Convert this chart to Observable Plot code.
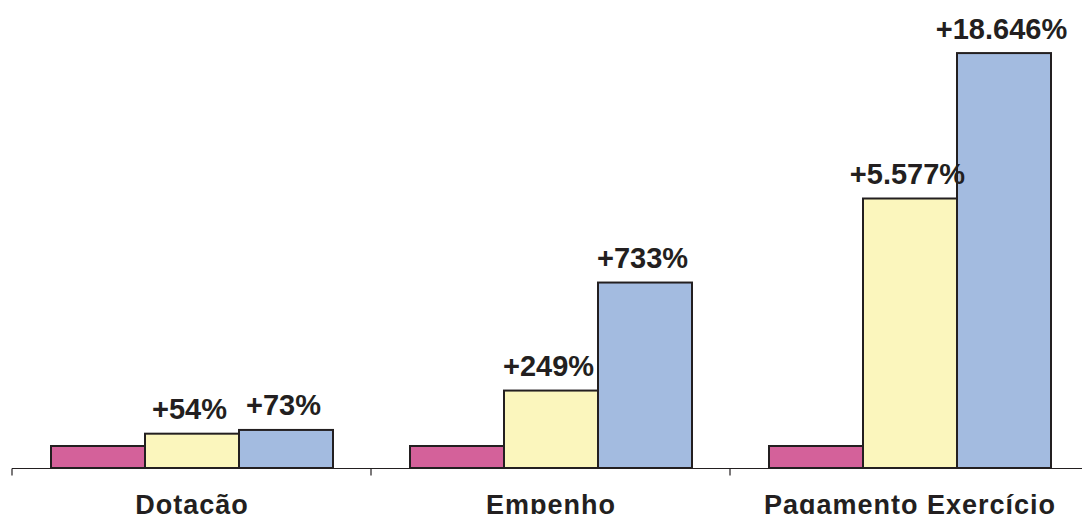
<!DOCTYPE html>
<html>
<head>
<meta charset="utf-8">
<script src="https://cdn.jsdelivr.net/npm/d3@7"></script>
<script src="https://cdn.jsdelivr.net/npm/@observablehq/plot@0.6"></script>
<style>
  html, body { margin: 0; padding: 0; background: #fff; }
  #chart svg { display: block; }
  g[aria-label="fx-axis tick label"] text { letter-spacing: 1px; }
</style>
</head>
<body>
<div id="chart"></div>
<script>
const categories = ["Dotação", "Empenho", "Pagamento Exercício"];
const series = ["base", "período 2", "período 3"];
// bar heights (index, pink bar = 100)
const baseValues = [100, 100, 100];
const secondValues = [156, 352, 1225];
const thirdValues = [173, 843, 1886];
const secondLabels = ["+54%", "+249%", "+5.577%"];
const thirdLabels = ["+73%", "+733%", "+18.646%"];
const colors = ["#d4619a", "#fbf6bd", "#a3bbe0"];

const rows = [];
categories.forEach((c, i) => {
  rows.push({category: c, series: series[0], value: baseValues[i], label: ""});
  rows.push({category: c, series: series[1], value: secondValues[i], label: secondLabels[i]});
  rows.push({category: c, series: series[2], value: thirdValues[i], label: thirdLabels[i]});
});

const ink = "#231f20";

const chart = Plot.plot({
  width: 1082,
  height: 514,
  marginTop: 28,
  marginBottom: 46,
  marginLeft: 12,
  marginRight: 0,
  style: {fontFamily: "'Liberation Sans', Arial, sans-serif", color: ink, background: "#fff"},
  fx: {domain: categories, range: [11, 1090], padding: 0, label: null},
  x: {domain: series, paddingInner: 0, paddingOuter: 0.392, axis: null},
  y: {domain: [0, 2000], axis: null},
  color: {domain: series, range: colors},
  marks: [
    Plot.barY(rows, {fx: "category", x: "series", y: "value", fill: "series", stroke: ink, strokeWidth: 2}),
    Plot.ruleY(categories, {
      fx: d => d, y: () => 0, stroke: ink, strokeWidth: 1.2,
      render(index, scales, values, dimensions, context, next) {
        const g = next(index, scales, values, dimensions, context);
        g.querySelectorAll("line").forEach(line => {
          const t = line.cloneNode();
          const x1 = line.getAttribute("x1");
          const y1 = +line.getAttribute("y1");
          t.setAttribute("x2", x1);
          t.setAttribute("y2", y1 + 7);
          g.appendChild(t);
        });
        return g;
      }
    }),
    Plot.text(rows, {
      fx: "category", x: "series", y: "value", text: "label",
      lineAnchor: "bottom", dy: -15, dx: -3,
      fontSize: 29, fontWeight: "bold", fill: ink
    }),
    Plot.axisFx({anchor: "bottom", tickSize: 0, tickPadding: 26, fontSize: 27, fontWeight: "bold", fill: ink, label: null})
  ]
});
document.getElementById("chart").appendChild(chart);
</script>
</body>
</html>
